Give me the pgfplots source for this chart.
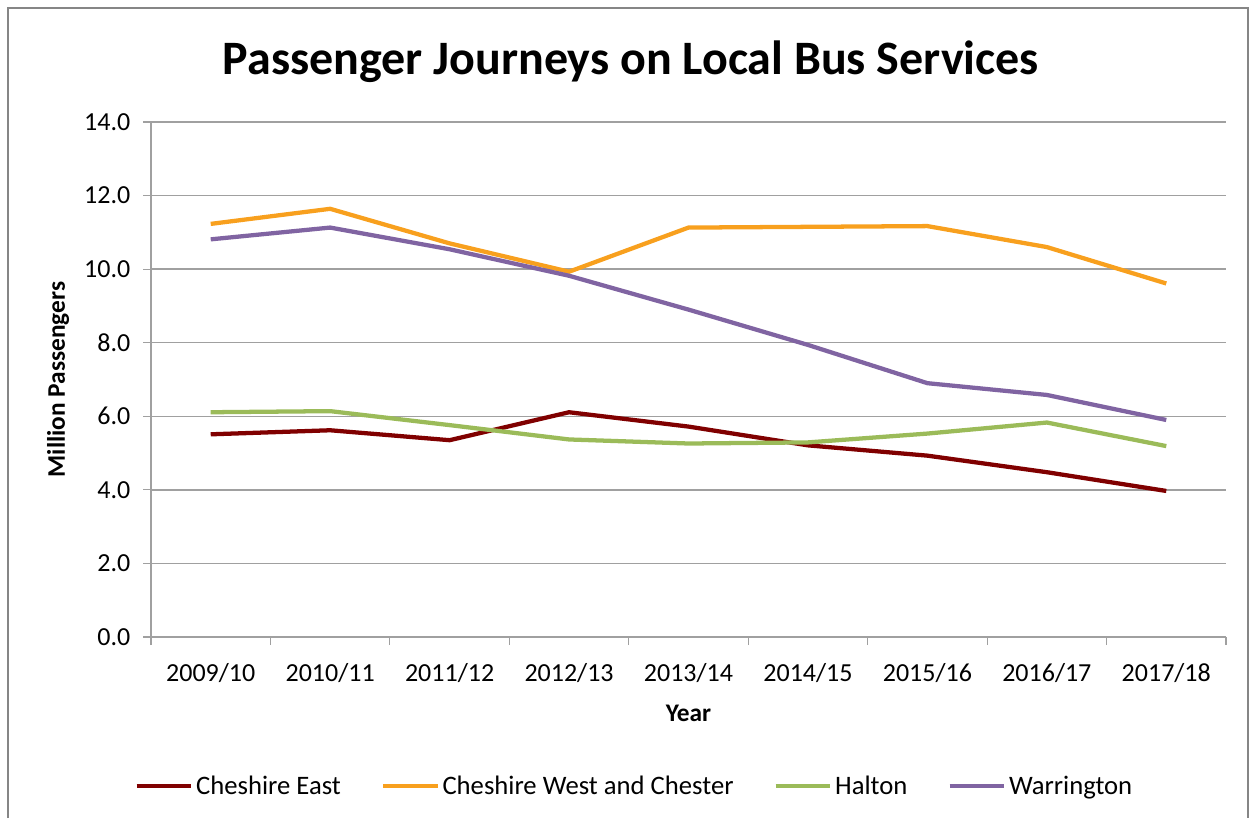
\documentclass[border=0pt]{standalone}
\usepackage{pgfplots}
\pgfplotsset{compat=1.18}
\usepackage{fontspec}
\setmainfont{Carlito}
\definecolor{ceast}{RGB}{128,0,0}
\definecolor{cwest}{RGB}{248,160,30}
\definecolor{halton}{RGB}{155,187,89}
\definecolor{warr}{RGB}{128,100,162}
\definecolor{gridc}{RGB}{160,160,160}
\definecolor{framec}{RGB}{134,134,134}
\begin{document}
\begin{tikzpicture}[x=0.75pt,y=0.75pt]
\useasboundingbox (0,0) rectangle (1255,818);
\draw[color=framec, line width=1.2pt] (8,0) -- (8,810) -- (1248,810) -- (1248,0);
\node[font=\bfseries\fontsize{36}{42}\selectfont] at (631,756) {Passenger Journeys on Local Bus Services};
\begin{axis}[
  at={(113.25pt,135.75pt)}, anchor=south west,
  width=806.25pt, height=386.25pt, scale only axis,
  xmin=-0.5, xmax=8.5, ymin=0, ymax=14,
  ytick={0,2,...,14},
  xtick={0,...,8},
  xticklabels={2009/10,2010/11,2011/12,2012/13,2013/14,2014/15,2015/16,2016/17,2017/18},
  minor xtick={-0.5,0.5,...,8.5},
  axis x line*=bottom, axis y line*=left,
  axis line style={gridc, line width=1pt, -},
  tick align=outside,
  major tick length=6pt,
  minor tick length=6pt,
  xtick style={draw=none},
  minor x tick style={draw=gridc, line width=0.8pt},
  ytick style={draw=gridc, line width=0.8pt},
  ymajorgrids, grid style={gridc, line width=1pt},
  tick label style={font=\fontsize{19.5}{22}\selectfont},
  /pgf/number format/.cd, fixed, fixed zerofill, precision=1, assume math mode=true, /pgfplots/.cd,
  xticklabel style={yshift=-10pt},
  yticklabel style={xshift=-6pt},
  xlabel={Year}, ylabel={Million Passengers},
  label style={font=\bfseries\fontsize{19}{22}\selectfont},
  xlabel style={at={(axis description cs:0.5,-0.1476)}, anchor=center},
  ylabel style={at={(axis description cs:-0.0865,0.5)}, anchor=center},
  legend columns=4,
  legend style={at={(axis description cs:0.450,-0.29)}, anchor=center, draw=none,
    font=\fontsize{20}{23}\selectfont,
    /tikz/every even column/.append style={column sep=28pt}},
  legend image code/.code={\draw[#1, line width=3.2pt] (0pt,0pt) -- (41pt,0pt);},
  every axis plot/.append style={line width=3.2pt, no markers},
]
\addplot[ceast] coordinates {(0,5.51) (1,5.62) (2,5.35) (3,6.11) (4,5.72) (5,5.21) (6,4.93) (7,4.48) (8,3.97)};
\addlegendentry{Cheshire East}
\addplot[cwest] coordinates {(0,11.23) (1,11.64) (2,10.70) (3,9.93) (4,11.13) (5,11.15) (6,11.17) (7,10.60) (8,9.61)};
\addlegendentry{Cheshire West and Chester}
\addplot[halton] coordinates {(0,6.11) (1,6.14) (2,5.76) (3,5.37) (4,5.26) (5,5.29) (6,5.53) (7,5.83) (8,5.19)};
\addlegendentry{Halton}
\addplot[warr] coordinates {(0,10.81) (1,11.13) (2,10.54) (3,9.82) (4,8.90) (5,7.94) (6,6.90) (7,6.58) (8,5.90)};
\addlegendentry{Warrington}
\end{axis}
\end{tikzpicture}
\end{document}
